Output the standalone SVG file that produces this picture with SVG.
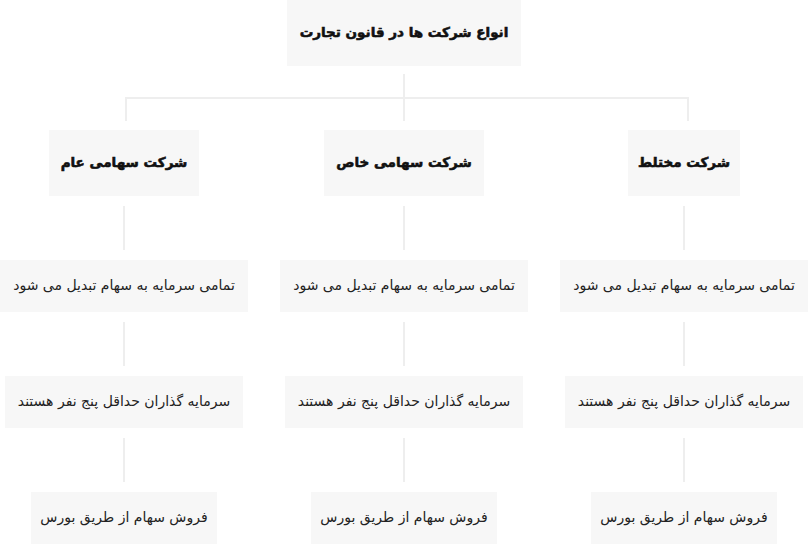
<svg xmlns="http://www.w3.org/2000/svg" width="808" height="544" viewBox="0 0 808 544">
<style>
.box{fill:#f7f7f7}
.h{font-family:"DejaVu Sans","Noto Sans",sans-serif;font-weight:bold;font-size:13.5px;fill:#111;stroke:#111;stroke-width:0.6;text-anchor:middle;dominant-baseline:central}
.t{font-family:"DejaVu Sans","Noto Sans",sans-serif;font-size:14px;fill:#222;text-anchor:middle;dominant-baseline:central}
.c{stroke:#eeeeee;stroke-width:2;fill:none}
</style>
<rect width="808" height="544" fill="#ffffff"/>
<g id="connectors">
<path class="c" d="M404 74V121M126 98H688M126 97V121M688 97V121"/>
<path class="c" d="M124 206V250M404 206V250M684 206V250"/>
<path class="c" d="M124 322V366M404 322V366M684 322V366"/>
<path class="c" d="M124 438V482M404 438V482M684 438V482"/>
</g>
<g id="root"><rect class="box" x="287" y="0" width="234" height="66"/><text class="h" x="404" y="32" direction="rtl">انواع شرکت ها در قانون تجارت</text></g>
<g id="n-aam"><rect class="box" x="49" y="130" width="150" height="66"/><text class="h" x="124" y="162" direction="rtl">شرکت سهامی عام</text></g>
<g id="n-khas"><rect class="box" x="324" y="130" width="160" height="66"/><text class="h" x="404" y="162" direction="rtl">شرکت سهامی خاص</text></g>
<g id="n-mokhtalet"><rect class="box" x="628" y="130" width="112" height="66"/><text class="h" x="684" y="162" direction="rtl">شرکت مختلط</text></g>
<g id="a1"><rect class="box" x="0" y="260" width="248" height="52"/><text class="t" x="124" y="285" direction="rtl">تمامی سرمایه به سهام تبدیل می شود</text></g>
<g id="b1"><rect class="box" x="280" y="260" width="248" height="52"/><text class="t" x="404" y="285" direction="rtl">تمامی سرمایه به سهام تبدیل می شود</text></g>
<g id="c1"><rect class="box" x="560" y="260" width="248" height="52"/><text class="t" x="684" y="285" direction="rtl">تمامی سرمایه به سهام تبدیل می شود</text></g>
<g id="a2"><rect class="box" x="5" y="376" width="238" height="52"/><text class="t" x="124" y="401" direction="rtl">سرمایه گذاران حداقل پنج نفر هستند</text></g>
<g id="b2"><rect class="box" x="285" y="376" width="238" height="52"/><text class="t" x="404" y="401" direction="rtl">سرمایه گذاران حداقل پنج نفر هستند</text></g>
<g id="c2"><rect class="box" x="565" y="376" width="238" height="52"/><text class="t" x="684" y="401" direction="rtl">سرمایه گذاران حداقل پنج نفر هستند</text></g>
<g id="a3"><rect class="box" x="31" y="492" width="186" height="52"/><text class="t" x="124" y="517" direction="rtl">فروش سهام از طریق بورس</text></g>
<g id="b3"><rect class="box" x="311" y="492" width="186" height="52"/><text class="t" x="404" y="517" direction="rtl">فروش سهام از طریق بورس</text></g>
<g id="c3"><rect class="box" x="591" y="492" width="186" height="52"/><text class="t" x="684" y="517" direction="rtl">فروش سهام از طریق بورس</text></g>
</svg>
